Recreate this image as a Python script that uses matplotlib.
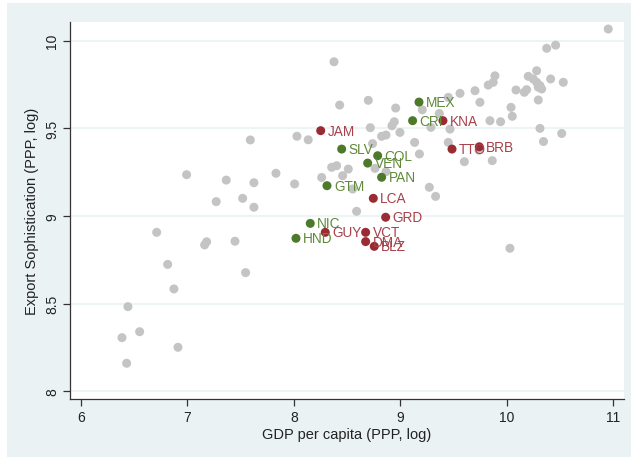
import matplotlib
matplotlib.use("Agg")
import matplotlib.pyplot as plt
from matplotlib.patches import Rectangle

plt.rcParams['font.family'] = ['Liberation Sans', 'DejaVu Sans']

# Other countries (gray)
gray_x = [10.951, 10.373, 10.457, 9.887, 9.871, 9.824, 10.279, 10.200, 10.247, 10.279,
          10.310, 10.326, 10.294, 10.410, 10.529, 10.085, 10.163, 10.185, 10.294, 10.038,
          10.050, 9.840, 9.940, 9.746, 10.310, 10.514, 10.343, 9.559, 9.700, 9.449,
          9.205, 9.365, 9.286, 9.465, 9.449, 9.737, 9.600, 9.862, 9.271, 9.330,
          10.028, 8.376, 8.429, 8.698, 8.955, 8.717, 8.942, 8.920, 8.995, 8.823,
          8.864, 9.133, 8.738, 9.178, 8.354, 8.401, 8.510, 8.457, 8.260, 8.761,
          8.864, 8.551, 8.588, 8.028, 8.134, 7.590, 6.992, 7.364, 7.624, 7.831,
          8.006, 7.270, 7.518, 7.624, 6.711, 7.180, 7.161, 7.446, 6.814, 7.546,
          6.873, 6.441, 6.551, 6.385, 6.911, 6.429]
gray_y = [10.067, 9.957, 9.975, 9.800, 9.763, 9.747, 9.829, 9.797, 9.782, 9.763,
          9.744, 9.725, 9.735, 9.782, 9.763, 9.719, 9.706, 9.721, 9.662, 9.620,
          9.569, 9.544, 9.538, 9.649, 9.500, 9.471, 9.425, 9.700, 9.715, 9.677,
          9.606, 9.585, 9.506, 9.496, 9.420, 9.375, 9.310, 9.316, 9.164, 9.112,
          8.816, 9.880, 9.633, 9.660, 9.616, 9.504, 9.538, 9.515, 9.477, 9.455,
          9.462, 9.420, 9.413, 9.354, 9.278, 9.287, 9.268, 9.230, 9.220, 9.272,
          9.253, 9.154, 9.027, 9.455, 9.435, 9.434, 9.236, 9.205, 9.190, 9.244,
          9.183, 9.082, 9.101, 9.050, 8.907, 8.853, 8.835, 8.856, 8.724, 8.677,
          8.584, 8.483, 8.340, 8.306, 8.251, 8.160]

# Highlighted groups
green_lab = ["MEX", "CRI", "SLV", "COL", "VEN", "PAN", "GTM", "NIC", "HND"]
green_x = [9.174, 9.114, 8.448, 8.786, 8.692, 8.823, 8.310, 8.153, 8.019]
green_y = [9.650, 9.544, 9.382, 9.344, 9.302, 9.221, 9.173, 8.958, 8.873]

red_lab = ["KNA", "JAM", "TTO", "BRB", "LCA", "GRD", "GUY", "VCT", "DMA", "BLZ"]
red_x = [9.399, 8.251, 9.484, 9.740, 8.745, 8.861, 8.294, 8.673, 8.673, 8.754]
red_y = [9.544, 9.487, 9.382, 9.395, 9.101, 8.993, 8.907, 8.907, 8.854, 8.827]

x_ticks = [6, 7, 8, 9, 10, 11]
y_ticks = [8, 8.5, 9, 9.5, 10]
y_ticklabels = ["8", "8.5", "9", "9.5", "10"]

W, H = 631, 464
fig = plt.figure(figsize=(W / 100, H / 100), dpi=100, facecolor='white')
bg = Rectangle((7 / W, 6 / H), 1 - 7 / W, 1 - 10 / H, transform=fig.transFigure,
               facecolor='#EAF2F3', edgecolor='none', zorder=-10)
fig.patches.append(bg)

ax = fig.add_axes([70 / W, 64 / H, 554 / W, 377 / H])
ax.set_zorder(1)
ax.set_facecolor('white')
ax.set_xlim(5.897, 11.099)
ax.set_ylim(7.956, 10.107)

for yv in y_ticks:
    ax.axhline(yv, color='#EAF2F3', lw=1.2, zorder=1)

ms = 42
ax.scatter(gray_x, gray_y, s=ms, color='#C4C4C4', edgecolors='none', zorder=2)
ax.scatter(green_x, green_y, s=ms, color='#4D7A2A', edgecolors='none', zorder=3)
ax.scatter(red_x, red_y, s=ms, color='#9B2B33', edgecolors='none', zorder=3)

for lab, xv, yv in zip(green_lab, green_x, green_y):
    ax.annotate(lab, (xv, yv), xytext=(5, 0), textcoords='offset points',
                va='center', ha='left', fontsize=9.8, color='#5E8A3A', zorder=4)
for lab, xv, yv in zip(red_lab, red_x, red_y):
    ax.annotate(lab, (xv, yv), xytext=(5, 0), textcoords='offset points',
                va='center', ha='left', fontsize=9.8, color='#A7414A', zorder=4)

for side in ['top', 'right']:
    ax.spines[side].set_visible(False)
for side in ['left', 'bottom']:
    ax.spines[side].set_color('#333333')
    ax.spines[side].set_linewidth(0.9)

ax.set_xticks(x_ticks)
ax.set_xticklabels([str(t) for t in x_ticks])
ax.set_yticks(y_ticks)
ax.set_yticklabels(y_ticklabels, rotation=90, va='center')
ax.tick_params(axis='both', direction='out', length=5, width=0.9, color='#333333',
               labelsize=10, labelcolor='#222222', pad=3)

ax.set_xlabel("GDP per capita (PPP, log)", fontsize=10.5, color='#222222', labelpad=2)
ax.set_ylabel("Export Sophistication (PPP, log)", fontsize=10.5, color='#222222', labelpad=4)

fig.savefig("out.png", dpi=100, facecolor=fig.get_facecolor())
